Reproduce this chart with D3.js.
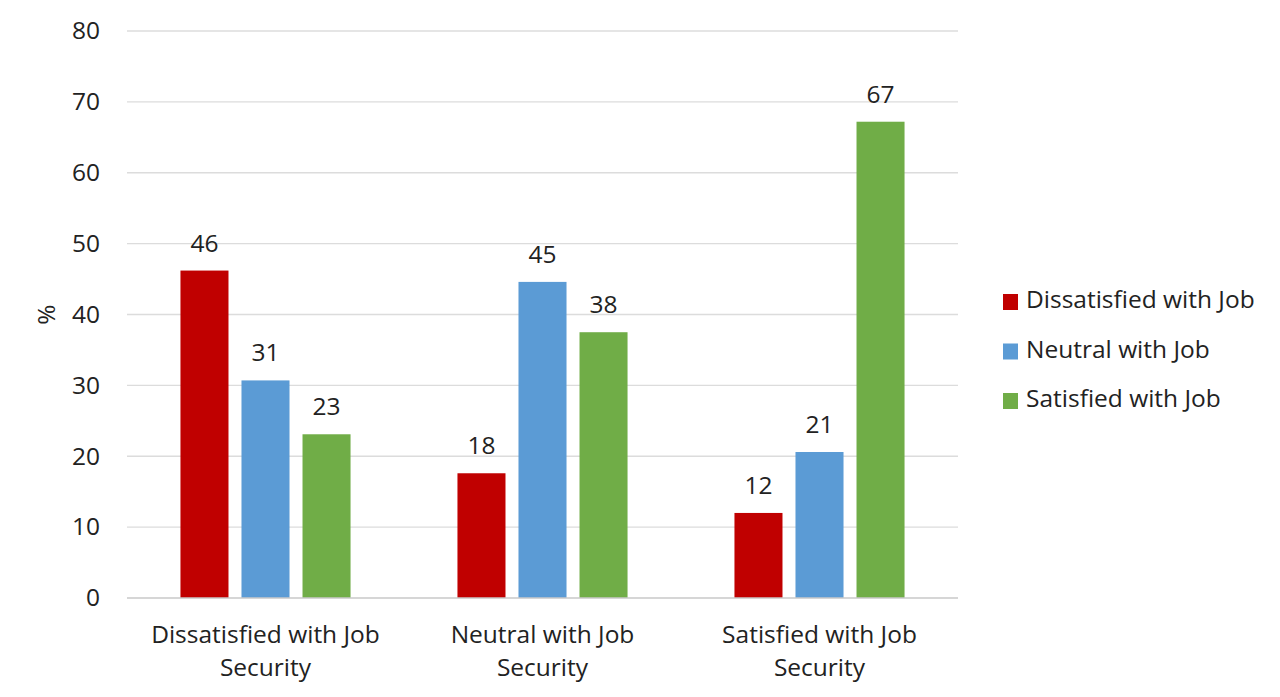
<!DOCTYPE html>
<html>
<head>
<meta charset="utf-8">
<script src="https://cdn.jsdelivr.net/npm/d3@7"></script>
<style>
  body { margin: 0; background: #fff; }
  text { font-family: "Open Sans", sans-serif; fill: #222; }
</style>
</head>
<body>
<div id="chart"></div>
<script>
'use strict';

// categories on the x axis (two lines each)
var categories = [
    ['Dissatisfied with Job', 'Security'],
    ['Neutral with Job', 'Security'],
    ['Satisfied with Job', 'Security']
];
var seriesNames = ['Dissatisfied with Job', 'Neutral with Job', 'Satisfied with Job'];
var seriesColors = ['#c00000', '#5b9bd5', '#70ad47'];

// one array per series, values per category (%)
var dissatisfiedJob = [46.2, 17.6, 12.0];
var neutralJob = [30.7, 44.6, 20.6];
var satisfiedJob = [23.1, 37.5, 67.2];
var series = [dissatisfiedJob, neutralJob, satisfiedJob];

var yTicks = [0, 10, 20, 30, 40, 50, 60, 70, 80];

var width = 1280;
var height = 697;
var margin = {top: 31, left: 127, right: 322, bottom: 99};
var fontSize = 24.5;

var svg = d3.select('#chart').append('svg')
    .attr('width', width)
    .attr('height', height);

var x0 = d3.scaleBand()
    .domain(d3.range(categories.length))
    .range([margin.left, width - margin.right])
    .paddingInner(0.386)
    .paddingOuter(0.193);

var x1 = d3.scaleBand()
    .domain(d3.range(series.length))
    .range([0, x0.bandwidth()])
    .paddingInner(0.213);

var y = d3.scaleLinear()
    .domain([0, 80])
    .range([height - margin.bottom, margin.top]);

// gridlines
svg.append('g')
    .selectAll('line')
    .data(yTicks.slice(1))
    .enter().append('line')
    .attr('x1', margin.left)
    .attr('x2', width - margin.right)
    .attr('y1', function(d) { return y(d); })
    .attr('y2', function(d) { return y(d); })
    .style('stroke', '#dcdcdc')
    .style('stroke-width', 1.3);

// y axis labels
var yAxis = svg.append('g')
    .attr('transform', 'translate(' + (margin.left - 27) + ',0)')
    .call(d3.axisLeft(y).tickValues(yTicks).tickSize(0).tickPadding(0));
yAxis.select('.domain').remove();
yAxis.selectAll('text')
    .style('font-size', fontSize + 'px')
    .style('font-family', '"Open Sans", sans-serif')
    .style('fill', '#222');

svg.append('text')
    .attr('transform', 'translate(55,' + y(40) + ') rotate(-90)')
    .attr('text-anchor', 'middle')
    .style('font-size', fontSize + 'px')
    .text('%');

// bars
var groups = svg.append('g')
    .selectAll('g')
    .data(categories)
    .enter().append('g')
    .attr('transform', function(d, i) { return 'translate(' + x0(i) + ',0)'; });

groups.each(function(cat, ci) {
    var g = d3.select(this);
    series.forEach(function(values, si) {
        g.append('rect')
            .attr('x', x1(si))
            .attr('y', y(values[ci]))
            .attr('width', x1.bandwidth())
            .attr('height', y(0) - y(values[ci]))
            .style('fill', seriesColors[si]);

        g.append('text')
            .attr('x', x1(si) + x1.bandwidth() / 2)
            .attr('y', y(values[ci]) - 19)
            .attr('text-anchor', 'middle')
            .style('font-size', fontSize + 'px')
            .text(Math.round(values[ci]));
    });
});

// baseline
svg.append('line')
    .attr('x1', margin.left)
    .attr('x2', width - margin.right)
    .attr('y1', y(0))
    .attr('y2', y(0))
    .style('stroke', '#c8c8c8')
    .style('stroke-width', 1.5);

// x labels
svg.append('g')
    .selectAll('text')
    .data(categories)
    .enter().append('text')
    .attr('text-anchor', 'middle')
    .attr('x', function(d, i) { return x0(i) + x0.bandwidth() / 2; })
    .attr('y', y(0) + 45)
    .style('font-size', fontSize + 'px')
    .each(function(lines) {
        var t = d3.select(this);
        lines.forEach(function(line, li) {
            t.append('tspan')
                .attr('x', t.attr('x'))
                .attr('dy', li === 0 ? 0 : 33)
                .text(line);
        });
    });

// legend
var legend = svg.append('g')
    .selectAll('g')
    .data(seriesNames)
    .enter().append('g')
    .attr('transform', function(d, i) { return 'translate(1003,' + (302 + i * 49.5) + ')'; });

legend.append('rect')
    .attr('x', 0)
    .attr('y', -8)
    .attr('width', 15)
    .attr('height', 16)
    .style('fill', function(d, i) { return seriesColors[i]; });

legend.append('text')
    .attr('x', 23)
    .attr('y', 6)
    .style('font-size', fontSize + 'px')
    .text(function(d) { return d; });
</script>
</body>
</html>
